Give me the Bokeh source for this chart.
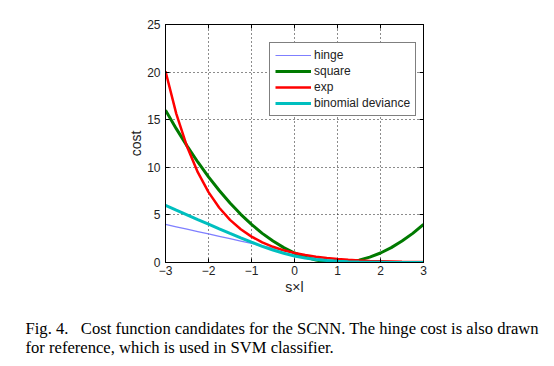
from bokeh.plotting import figure
from bokeh.models import LinearAxis, Title, Legend, LegendItem, FixedTicker, Range1d
from bokeh.embed import file_html
from bokeh.resources import INLINE

# ---- data ----
x = [-3, -2.75, -2.5, -2.25, -2, -1.75, -1.5, -1.25, -1, -0.75, -0.5, -0.25,
     0, 0.25, 0.5, 0.75, 1, 1.25, 1.5, 1.75, 2, 2.25, 2.5, 2.75, 3]
hinge = [4, 3.75, 3.5, 3.25, 3, 2.75, 2.5, 2.25, 2, 1.75, 1.5, 1.25,
         1, 0.75, 0.5, 0.25, 0, 0, 0, 0, 0, 0, 0, 0, 0]
square = [16, 14.06, 12.25, 10.56, 9, 7.56, 6.25, 5.06, 4, 3.06, 2.25, 1.56,
          1, 0.56, 0.25, 0.06, 0, 0.06, 0.25, 0.56, 1, 1.56, 2.25, 3.06, 4]
expc = [20.09, 15.64, 12.18, 9.49, 7.39, 5.75, 4.48, 3.49, 2.72, 2.12, 1.65, 1.28,
        1, 0.78, 0.61, 0.47, 0.37, 0.29, 0.22, 0.17, 0.14, 0.11, 0.08, 0.06, 0.05]
binom = [6.0, 5.5, 5.01, 4.51, 4.02, 3.53, 3.05, 2.58, 2.13, 1.70, 1.31, 0.97,
         0.69, 0.47, 0.31, 0.20, 0.13, 0.08, 0.05, 0.03, 0.02, 0.01, 0.01, 0.0, 0.0]
x_ticks = [-3, -2, -1, 0, 1, 2, 3]
x_tick_labels = ["\u22123", "\u22122", "\u22121", "0", "1", "2", "3"]
y_ticks = [0, 5, 10, 15, 20, 25]
series_names = ["hinge", "square", "exp", "binomial deviance"]
caption1 = "Fig. 4.\u00a0\u00a0\u00a0Cost function candidates for the SCNN. The hinge cost is also drawn"
caption2 = "for reference, which is used in SVM classifier."

W, H = 554, 362
p = figure(width=W, height=H, output_backend="svg", toolbar_location=None,
           x_range=Range1d(-3, 3), y_range=Range1d(0, 25),
           min_border_left=165, min_border_right=131, min_border_top=24,
           min_border_bottom=100, x_axis_label="s\u00d7l", y_axis_label="cost")
p.background_fill_color = "white"
p.border_fill_color = "white"
p.outline_line_color = "black"
p.outline_line_width = 1

tick_color = "#222222"
for ax in p.xaxis + p.yaxis:
    ax.major_tick_in = 4
    ax.major_tick_out = 0
    ax.minor_tick_line_color = None
    ax.axis_line_color = "black"
    ax.major_tick_line_color = "black"
    ax.major_label_text_font = "Liberation Sans"
    ax.major_label_text_font_size = "12px"
    ax.major_label_text_color = tick_color
    ax.axis_label_text_font = "Liberation Sans"
    ax.axis_label_text_font_size = "14px"
    ax.axis_label_text_font_style = "normal"
    ax.axis_label_text_color = tick_color
p.xaxis.ticker = FixedTicker(ticks=x_ticks)
p.yaxis.ticker = FixedTicker(ticks=y_ticks)
p.xaxis.major_label_overrides = dict(zip(x_ticks, x_tick_labels))
p.xaxis.major_label_standoff = 3
p.yaxis.major_label_standoff = 5
p.xaxis.axis_label_standoff = 1
p.yaxis.axis_label_standoff = 0

for loc, tk in (("right", y_ticks), ("above", x_ticks)):
    ax = LinearAxis(ticker=FixedTicker(ticks=tk), major_label_text_color=None,
                    major_label_text_font_size="1px",
                    major_tick_in=4, major_tick_out=0, minor_tick_line_color=None,
                    axis_line_color="black", major_label_standoff=0)
    p.add_layout(ax, loc)

for g in (p.xgrid[0], p.ygrid[0]):
    g.grid_line_color = "black"
    g.grid_line_dash = "1 3"
    g.grid_line_alpha = 0.9
    g.grid_line_width = 1
p.xgrid.ticker = FixedTicker(ticks=x_ticks)
p.ygrid.ticker = FixedTicker(ticks=y_ticks)

colors = ["#7f7fff", "#007a00", "#ff0000", "#00bfbf"]
widths = [1.2, 3, 2.5, 3]
renderers = []
for ys, c, w in zip([hinge, square, expc, binom], colors, widths):
    renderers.append(p.line(x, ys, line_color=c, line_width=w))

legend = Legend(items=[LegendItem(label=n, renderers=[r]) for n, r in zip(series_names, renderers)],
                location=(104, 146), orientation="vertical")
legend.label_text_font = "Liberation Sans"
legend.label_text_font_size = "12px"
legend.label_text_color = tick_color
legend.glyph_width = 36
legend.glyph_height = 14
legend.label_height = 14
legend.spacing = 2
legend.padding = 5
legend.margin = 0
legend.label_standoff = 3
legend.border_line_color = "black"
legend.border_line_width = 1
legend.background_fill_color = "white"
legend.background_fill_alpha = 1
p.add_layout(legend, "center")

# caption: a leading blank line opens the gap below the x axis label
for txt, st in (("\n" + caption1, 0), (caption2, -4)):
    p.add_layout(Title(text=txt, align="left", offset=-140, standoff=st,
                       text_font="Liberation Serif", text_font_size="16.6px",
                       text_font_style="normal", text_color="black"), "below")

open("out.html", "w").write(file_html(p, INLINE))
